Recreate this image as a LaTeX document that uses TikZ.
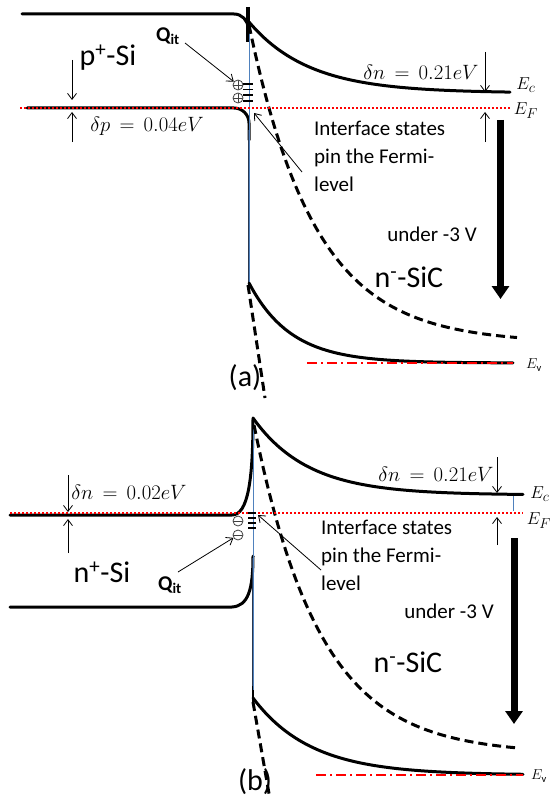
\documentclass[tikz,border=0pt]{standalone}
\usepackage{fontspec}
\setmainfont{Carlito}
\usetikzlibrary{arrows.meta}
\definecolor{ifblue}{RGB}{79,129,189}
\definecolor{navyln}{RGB}{40,55,80}
\begin{document}
\begin{tikzpicture}[x=1pt,y=-1pt,
  band/.style={line width=3pt,black,line cap=round},
  dband/.style={line width=3pt,black,dash pattern=on 9pt off 5pt},
  fermi/.style={red,line width=2pt,dash pattern=on 2pt off 2pt},
  vband/.style={red,line width=1.8pt,dash pattern=on 10pt off 4pt on 2pt off 4pt},
  thinarr/.style={line width=0.8pt,-{Straight Barb[length=6pt,width=9pt]}},
  thickarr/.style={line width=7pt,-{Triangle[length=13pt,width=17pt]}},
  iface/.style={ifblue,line width=1pt},
  navyv/.style={navyln,line width=2.6pt},
  bigtxt/.style={font=\fontsize{30}{32}\selectfont,inner sep=0pt},
  midtxt/.style={font=\fontsize{21}{28}\selectfont,inner sep=0pt},
  mathtxt/.style={font=\fontsize{22}{23}\selectfont,inner sep=0pt},
  elbl/.style={font=\fontsize{19}{20}\selectfont,inner sep=0pt},
  qlbl/.style={font=\fontsize{21}{22}\selectfont\bfseries,inner sep=0pt},
  pc/.style={circle,draw=black!75,line width=0.8pt,inner sep=0pt,minimum size=10pt,
    path picture={\draw[black!75,line width=0.8pt] (path picture bounding box.west) -- (path picture bounding box.east) (path picture bounding box.north) -- (path picture bounding box.south);}},
  mc/.style={circle,draw=black!75,line width=0.8pt,inner sep=0pt,minimum size=10pt,
    path picture={\draw[black!75,line width=0.8pt] (path picture bounding box.west) -- (path picture bounding box.east);}},
  istate/.style={line width=1.3pt}
]
\useasboundingbox (0,0) rectangle (551,797);

% ================= (a) =================
\draw[band,rounded corners=14pt] (22,14) -- (248,14) -- (248,30);
\draw[line width=4pt] (248,7) -- (248,42);
\draw[band] plot[domain=249:510,samples=90] (\x,{93-71*exp(-(\x-249)/60)});
\draw[band,rounded corners=15pt] (27,108) -- (249,108) -- (249,140);
\draw[navyv] (249,130) -- (249,283);
\draw[iface] (249,25) -- (249,283);
\draw[dband] plot[domain=249:517,samples=90] (\x,{343-318*exp(-(\x-249)/66)});
\draw[dband] (248,285) -- (265,398);
\draw[band] plot[domain=249:513,samples=90] (\x,{363-80*exp(-(\x-249)/42)});
\draw[vband] (307,363) -- (513,363);
\draw[fermi] (20,108) -- (510,108);
\node[pc] (pa1) at (238,85) {};
\node[pc] (pa2) at (238,98) {};
\draw[istate] (243,84) -- (253,84) (243,89.5) -- (253,89.5) (243,95) -- (253,95) (243,101) -- (253,101);
\node[bigtxt] (psi) at (108,58) {p\textsuperscript{+}-Si};
\node[qlbl] (qa) at (168,36) {Q\textsubscript{it}};
\coordinate (qa0) at (185,43);
\draw[thinarr] (qa0) -- (pa1);
\coordinate (dpa1) at (72,60); \coordinate (dpa2) at (72,100);
\coordinate (dpa3) at (72,142); \coordinate (dpa4) at (72,112);
\draw[thinarr] (dpa1) -- (dpa2);
\draw[thinarr] (dpa3) -- (dpa4);
\node[mathtxt] (dp) at (147,126) {$\delta p\,=\,0.04eV$};
\coordinate (dna1) at (485,52); \coordinate (dna2) at (485,92);
\coordinate (dna3) at (485,142); \coordinate (dna4) at (485,112);
\draw[thinarr] (dna1) -- (dna2);
\draw[thinarr] (dna3) -- (dna4);
\node[mathtxt] (dna) at (421,72) {$\delta n\,=\,0.21eV$};
\node[elbl] (eca) at (526,85) {$E_c$};
\node[elbl] (efa) at (526,111) {$E_F$};
\node[elbl,font=\fontsize{15}{16}\selectfont] (eva) at (534,365) {$E_{\rm v}$};
\node[midtxt,anchor=north west,align=left] (ia) at (314,121) {Interface states\\pin the Fermi-\\level};
\coordinate (iat) at (254,113); \coordinate (ias) at (302,172);
\draw[thinarr] (ias) -- (iat);
\coordinate (ta1) at (500.5,120); \coordinate (ta2) at (500.5,299);
\draw[thickarr] (ta1) -- (ta2);
\node[midtxt] (ua) at (432,234) {under -3 V};
\node[bigtxt] (nsa) at (409,277) {n\textsuperscript{-}-SiC};
\node[bigtxt] (la) at (245,378) {(a)};

% ================= (b) =================
\draw[band] (10,515) -- (232,515) .. controls (248,515) and (253,480) .. (253,418);
\draw[band] plot[domain=253:523,samples=90] (\x,{495-77*exp(-(\x-253)/55)});
\draw[band] (10,607) -- (232,607) .. controls (248,606) and (253,590) .. (253,556);
\draw[navyv] (253,558) -- (253,690);
\draw[line width=2.8pt] (253,686) -- (253,702);
\draw[iface] (253,428) -- (253,690);
\draw[dband] plot[domain=254:520,samples=90] (\x,{754-329*exp(-(\x-254)/66)});
\draw[dband] (253,702) -- (271,805);
\draw[band] plot[domain=253:523,samples=90] (\x,{775-77*exp(-(\x-253)/58)});
\draw[vband] (316,775) -- (523,775);
\draw[fermi] (10,513) -- (523,513);
\draw[iface] (513,496) -- (513,511);
\node[mc] (mb1) at (238,521) {};
\node[mc] (mb2) at (238,535) {};
\draw[istate] (248,513) -- (256,513) (248,518) -- (256,518) (248,523) -- (256,523) (248,528) -- (256,528);
\coordinate (dpb1) at (68,475); \coordinate (dpb2) at (68,512);
\coordinate (dpb3) at (68,553); \coordinate (dpb4) at (68,519);
\draw[thinarr] (dpb1) -- (dpb2);
\draw[thinarr] (dpb3) -- (dpb4);
\node[mathtxt] (dnb0) at (129,492) {$\delta n\,=\,0.02eV$};
\node[bigtxt] (nsi) at (102,572) {n\textsuperscript{+}-Si};
\node[qlbl] (qb) at (170,585) {Q\textsubscript{it}};
\coordinate (qb0) at (178,572);
\draw[thinarr] (qb0) -- (mb2);
\coordinate (dnb1) at (497,457); \coordinate (dnb2) at (497,493);
\coordinate (dnb3) at (497,545); \coordinate (dnb4) at (497,517);
\draw[thinarr] (dnb1) -- (dnb2);
\draw[thinarr] (dnb3) -- (dnb4);
\node[mathtxt] (dnb) at (436,474) {$\delta n\,=\,0.21eV$};
\node[elbl] (ecb) at (540,494) {$E_c$};
\node[elbl] (efb) at (539,521) {$E_F$};
\node[elbl,font=\fontsize{15}{16}\selectfont] (evb) at (539,776) {$E_{\rm v}$};
\node[midtxt,anchor=north west,align=left] (ib) at (321,520) {Interface states\\pin the Fermi-\\level};
\coordinate (ibt) at (258,515); \coordinate (ibs) at (321,570);
\draw[thinarr] (ibs) -- (ibt);
\coordinate (tb1) at (514,538); \coordinate (tb2) at (514,724);
\draw[thickarr] (tb1) -- (tb2);
\node[midtxt] (ub) at (449,611) {under -3 V};
\node[bigtxt] (nsb) at (408,662) {n\textsuperscript{-}-SiC};
\node[bigtxt] (lb) at (255,782) {(b)};
\end{tikzpicture}
\end{document}
